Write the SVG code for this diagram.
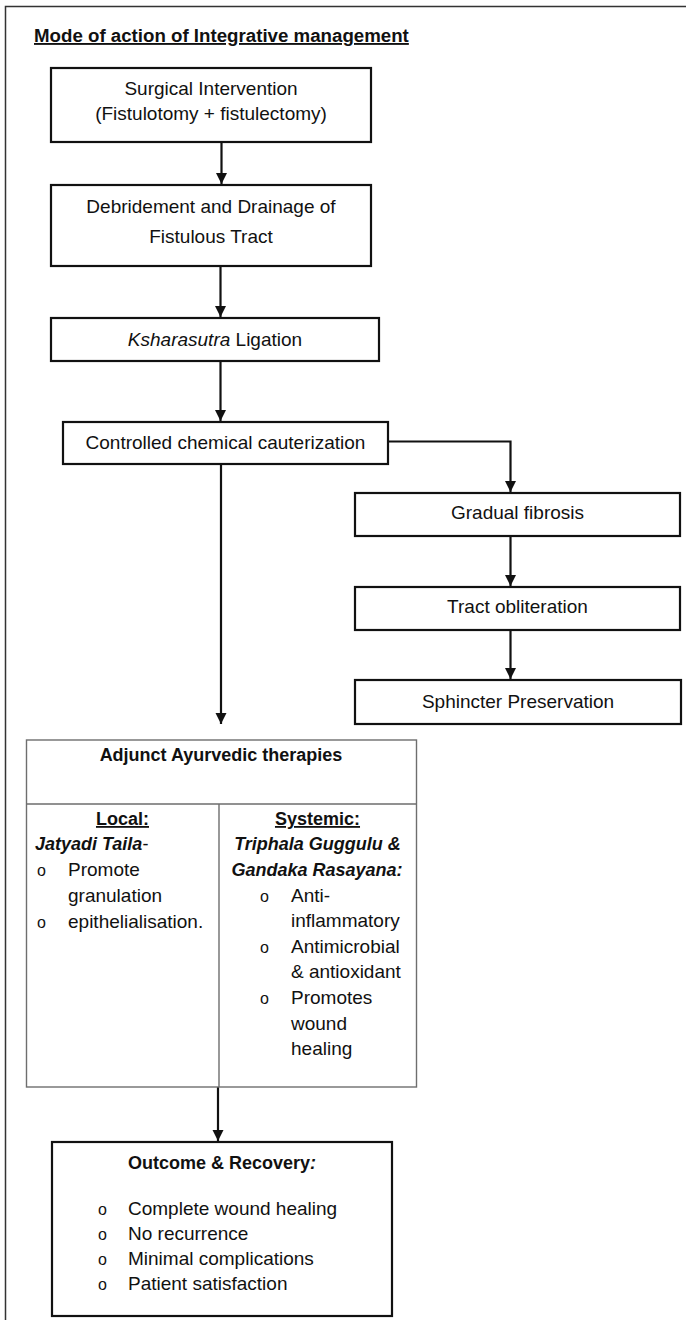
<svg xmlns="http://www.w3.org/2000/svg" width="686" height="1320" viewBox="0 0 686 1320">
<defs>
<style>
text{font-family:"Liberation Sans",Arial,sans-serif;fill:#111;}
.t{font-size:19px;}
.c{text-anchor:middle;}
.b{font-weight:bold;font-size:18px;}
.bi{font-weight:bold;font-style:italic;font-size:18px;}
.u{text-decoration:underline;}
.bul{font-size:16px;}
.box{fill:#fff;stroke:#111;stroke-width:2.2;}
.tbl{fill:#fff;stroke:#6e6e6e;stroke-width:1.4;}
.con{fill:none;stroke:#111;stroke-width:2.2;}
</style>
<marker id="ah" viewBox="0 0 10 10" refX="10" refY="5" markerUnits="userSpaceOnUse" markerWidth="11" markerHeight="12" orient="auto">
<path d="M0,0 L10,5 L0,10 Z" fill="#111"/>
</marker>
</defs>
<rect width="686" height="1320" fill="#fff"/>
<path d="M5.5,1320 V6.5 H686" fill="none" stroke="#333" stroke-width="1.5"/>
<text id="title" x="34" y="42" class="u" style="font-weight:bold;font-size:18.7px">Mode of action of Integrative management</text>

<g id="connectors">
<path class="con" d="M221.5,142 V184" marker-end="url(#ah)"/>
<path class="con" d="M220.5,266 V317" marker-end="url(#ah)"/>
<path class="con" d="M220.5,361 V421" marker-end="url(#ah)"/>
<path class="con" d="M388,441.5 H510.5 V492" marker-end="url(#ah)"/>
<path class="con" d="M510.5,536 V586" marker-end="url(#ah)"/>
<path class="con" d="M510.5,626 V679" marker-end="url(#ah)"/>
<path class="con" d="M221,464 V724" marker-end="url(#ah)"/>
<path class="con" d="M218,1087 V1141" marker-end="url(#ah)"/>
</g>

<g id="n1">
<rect class="box" x="51" y="68" width="320" height="74"/>
<text class="t c" x="211" y="95">Surgical Intervention</text>
<text class="t c" x="211" y="120">(Fistulotomy + fistulectomy)</text>
</g>
<g id="n2">
<rect class="box" x="51" y="185" width="320" height="81"/>
<text class="t c" x="211" y="213">Debridement and Drainage of</text>
<text class="t c" x="211" y="243">Fistulous Tract</text>
</g>
<g id="n3">
<rect class="box" x="51" y="318" width="328" height="43"/>
<text class="t c" x="215" y="346"><tspan font-style="italic">Ksharasutra</tspan> Ligation</text>
</g>
<g id="n4">
<rect class="box" x="63" y="422" width="325" height="42"/>
<text class="t c" x="225.5" y="449">Controlled chemical cauterization</text>
</g>
<g id="n5">
<rect class="box" x="355" y="493" width="325" height="43"/>
<text class="t c" x="517.5" y="519">Gradual fibrosis</text>
</g>
<g id="n6">
<rect class="box" x="355" y="587" width="325" height="43"/>
<text class="t c" x="517.5" y="613">Tract obliteration</text>
</g>
<g id="n7">
<rect class="box" x="355" y="680" width="326" height="44"/>
<text class="t c" x="518" y="708">Sphincter Preservation</text>
</g>

<g id="n8">
<rect class="tbl" x="26.5" y="740" width="390" height="347"/>
<path d="M26.5,804 H416.5 M219,804 V1087" fill="none" stroke="#6e6e6e" stroke-width="1.4"/>
<text class="b c" x="221" y="761">Adjunct Ayurvedic therapies</text>
<text class="b c u" x="122.5" y="825">Local:</text>
<text class="bi" x="35" y="850">Jatyadi Taila<tspan font-style="normal" font-weight="normal">-</tspan></text>
<text class="bul" x="37" y="876">o</text>
<text class="t" x="68" y="876">Promote</text>
<text class="t" x="68" y="902">granulation</text>
<text class="bul" x="37" y="928">o</text>
<text class="t" x="68" y="928">epithelialisation.</text>
<text class="b c u" x="317.5" y="825">Systemic:</text>
<text class="bi c" x="317.5" y="850">Triphala Guggulu &amp;</text>
<text class="bi c" x="317" y="876">Gandaka Rasayana:</text>
<text class="bul" x="260" y="902">o</text>
<text class="t" x="291" y="902">Anti-</text>
<text class="t" x="291" y="927">inflammatory</text>
<text class="bul" x="260" y="953">o</text>
<text class="t" x="291" y="953">Antimicrobial</text>
<text class="t" x="291" y="978">&amp; antioxidant</text>
<text class="bul" x="260" y="1004">o</text>
<text class="t" x="291" y="1004">Promotes</text>
<text class="t" x="291" y="1030">wound</text>
<text class="t" x="291" y="1055">healing</text>
</g>

<g id="n9">
<rect class="box" x="52" y="1142" width="340" height="174"/>
<text class="b c" x="222" y="1169">Outcome &amp; Recovery<tspan font-style="italic">:</tspan></text>
<text class="bul" x="98" y="1215">o</text>
<text class="t" x="128" y="1215">Complete wound healing</text>
<text class="bul" x="98" y="1240">o</text>
<text class="t" x="128" y="1240">No recurrence</text>
<text class="bul" x="98" y="1265">o</text>
<text class="t" x="128" y="1265">Minimal complications</text>
<text class="bul" x="98" y="1290">o</text>
<text class="t" x="128" y="1290">Patient satisfaction</text>
</g>
</svg>
